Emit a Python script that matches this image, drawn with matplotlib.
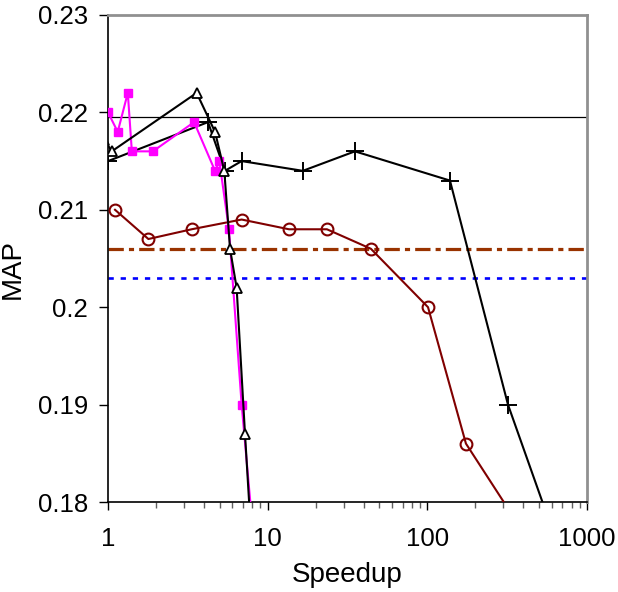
import matplotlib
matplotlib.use('Agg')
import matplotlib.pyplot as plt
from matplotlib.ticker import FixedLocator, FixedFormatter, LogLocator, NullFormatter

plt.rcParams['font.family'] = ['Liberation Sans', 'DejaVu Sans']

# plus series (black)
plus_x = [1.0, 4.23, 5.4, 6.87, 16.6, 35.2, 138.6, 320, 865]
plus_y = [0.215, 0.219, 0.214, 0.215, 0.214, 0.216, 0.213, 0.190, 0.170]

# triangle series (black, open)
tri_x = [0.95, 1.055, 3.59, 4.68, 5.35, 5.81, 6.39, 7.21, 8.33]
tri_y = [0.2172, 0.216, 0.222, 0.218, 0.214, 0.206, 0.202, 0.187, 0.170]

# square series (magenta)
sq_x = [1.0, 1.15, 1.33, 1.41, 1.91, 3.46, 4.68, 4.98, 5.72, 6.87, 8.82]
sq_y = [0.220, 0.218, 0.222, 0.216, 0.216, 0.219, 0.214, 0.215, 0.208, 0.190, 0.170]

# circle series (dark red, open)
circ_x = [1.106, 1.79, 3.34, 6.87, 13.6, 23.5, 44.3, 101, 174.5, 748]
circ_y = [0.210, 0.207, 0.208, 0.209, 0.208, 0.208, 0.206, 0.200, 0.186, 0.170]

# horizontal reference levels
ref_black = 0.2195
ref_brown = 0.206
ref_blue = 0.203

yticks = [0.18, 0.19, 0.2, 0.21, 0.22, 0.23]
ytick_labels = ['0.18', '0.19', '0.2', '0.21', '0.22', '0.23']
xticks = [1, 10, 100, 1000]
xtick_labels = ['1', '10', '100', '1000']

fig = plt.figure(figsize=(6.18, 5.92), dpi=100)
ax = fig.add_axes([0.1748, 0.152, 0.775, 0.8227])

ax.axhline(ref_black, color='black', lw=0.9, zorder=1)
ax.axhline(ref_brown, color='#993300', lw=2.3, dashes=[4.8, 1.6, 1.6, 1.6], zorder=1)
ax.axhline(ref_blue, color='#0000FF', lw=1.9, dashes=[2.0, 2.6], zorder=1)

ax.plot(circ_x, circ_y, color='#800000', lw=1.5, marker='o', ms=8.5,
        mfc='none', mec='#800000', mew=1.5, zorder=3)
ax.plot(plus_x, plus_y, color='black', lw=1.5, marker='+', ms=13,
        mew=1.4, zorder=4)
ax.plot(sq_x, sq_y, color='#FF00FF', lw=1.5, marker='s', ms=6,
        mfc='#FF00FF', mec='#FF00FF', zorder=5)
ax.plot(tri_x, tri_y, color='black', lw=1.5, marker='^', ms=7.5,
        mfc='white', mec='black', mew=1.3, zorder=6)

ax.set_xscale('log')
ax.set_xlim(1, 1000)
ax.set_ylim(0.18, 0.23)

ax.yaxis.set_major_locator(FixedLocator(yticks))
ax.yaxis.set_major_formatter(FixedFormatter(ytick_labels))
ax.xaxis.set_major_locator(FixedLocator(xticks))
ax.xaxis.set_major_formatter(FixedFormatter(xtick_labels))
ax.xaxis.set_minor_locator(LogLocator(base=10, subs=range(2, 10)))
ax.xaxis.set_minor_formatter(NullFormatter())
ax.tick_params(axis='y', which='major', direction='out', length=6.5, width=1,
               labelsize=18.5, pad=8)
ax.tick_params(axis='x', which='major', direction='out', length=6, width=1,
               labelsize=18.5, pad=12)
ax.tick_params(axis='x', which='minor', direction='out', length=4, width=1,
               color='#606060')

for s in ['left', 'bottom']:
    ax.spines[s].set_color('black')
    ax.spines[s].set_linewidth(1.2)
for s in ['top', 'right']:
    ax.spines[s].set_color('#909090')
    ax.spines[s].set_linewidth(2)

ax.set_xlabel('Speedup', fontsize=20, labelpad=8)
ax.set_ylabel('MAP', fontsize=20)
ax.yaxis.set_label_coords(-0.172, 0.478)

fig.savefig('out.png', dpi=100)
